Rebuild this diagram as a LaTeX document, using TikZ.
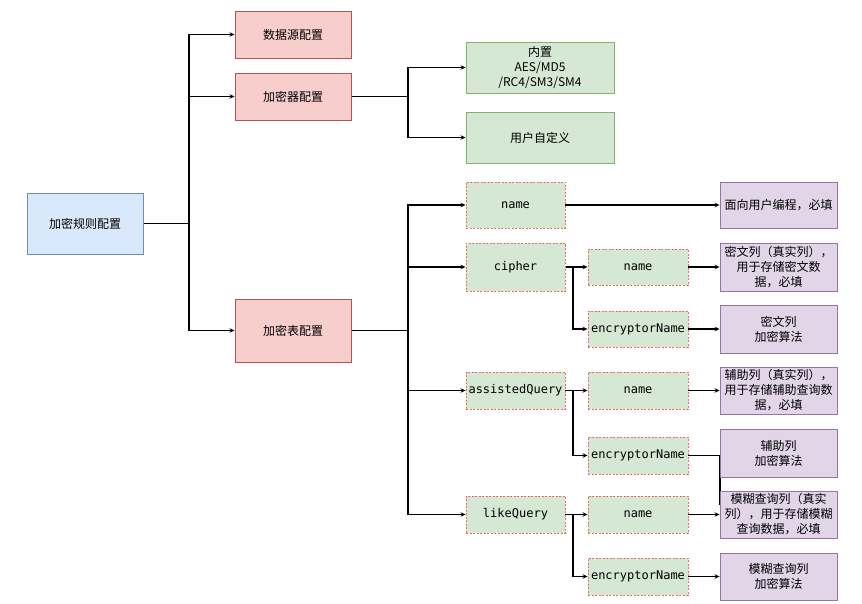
\documentclass[tikz,border=0pt]{standalone}
\usepackage{fontspec}
\setmainfont{Noto Sans CJK SC}
\setmonofont{DejaVu Sans Mono}
\usetikzlibrary{arrows.meta}
\pgfdeclarelayer{background}
\pgfsetlayers{background,main}
\definecolor{bluef}{HTML}{DAE8FC}\definecolor{blues}{HTML}{6C8EBF}
\definecolor{redf}{HTML}{F8CECC}\definecolor{reds}{HTML}{B85450}
\definecolor{greenf}{HTML}{D5E8D4}\definecolor{greens}{HTML}{82B366}
\definecolor{purpf}{HTML}{E1D5E7}\definecolor{purps}{HTML}{9673A6}
\definecolor{dashs}{HTML}{EA6B66}
\tikzset{
  box/.style={rectangle, inner sep=0pt, align=center, font=\fontsize{12}{15}\selectfont, line width=0.9pt},
  bluebox/.style={box, fill=bluef, draw=blues},
  redbox/.style={box, fill=redf, draw=reds, minimum width=116pt},
  greenbox/.style={box, fill=greenf, draw=greens, minimum width=148pt, minimum height=51pt},
  keybox/.style={box, fill=greenf, draw=dashs, dashed, dash pattern=on 2pt off 1.5pt, font=\fontsize{12}{15}\selectfont\ttfamily},
  keyA/.style={keybox, minimum width=99pt},
  keyB/.style={keybox, minimum width=100pt, minimum height=37pt},
  purpbox/.style={box, fill=purpf, draw=purps, minimum width=117pt},
  conn/.style={line width=1.1pt, black},
  arr/.style={conn, -{Stealth[length=5pt,width=4.5pt]}},
}
\begin{document}
\begin{tikzpicture}[x=1pt,y=-1pt]
\useasboundingbox (0,0) rectangle (862,604);
% nodes
\node[bluebox, minimum width=116pt, minimum height=61pt] (root) at (85,223.5) {加密规则配置};
\node[redbox, minimum height=47pt] (ds) at (293,34.5) {数据源配置};
\node[redbox, minimum height=47pt] (enc) at (293,96.5) {加密器配置};
\node[redbox, minimum height=63pt] (tbl) at (293,330.5) {加密表配置};
\node[greenbox] (builtin) at (540,67.5) {内置\\AES/MD5\\/RC4/SM3/SM4};
\node[greenbox] (custom) at (540,137.5) {用户自定义};
\node[keyA, minimum height=46pt] (nm) at (515.5,205) {name};
\node[keyA, minimum height=48pt] (ci) at (515.5,267) {cipher};
\node[keyA, minimum height=37pt] (aq) at (515.5,390.5) {assistedQuery};
\node[keyA, minimum height=37pt] (lq) at (515.5,514.5) {likeQuery};
\node[keyB, minimum height=36pt] (cn) at (638,267) {name};
\node[keyB, minimum height=36pt] (ce) at (638,329) {encryptorName};
\node[keyB] (aqn) at (638,390.5) {name};
\node[keyB] (aqe) at (638,455.5) {encryptorName};
\node[keyB] (lqn) at (638,514.5) {name};
\node[keyB] (lqe) at (638,576.5) {encryptorName};
\node[purpbox, minimum height=46pt] (p1) at (778.5,205) {面向用户编程，必填};
\node[purpbox, minimum height=48pt] (p2) at (778.5,267) {密文列（真实列），\\用于存储密文数\\据，必填};
\node[purpbox, minimum height=48pt] (p2b) at (778.5,329) {密文列\\加密算法};
\node[purpbox, minimum height=47pt] (p3) at (778.5,390.5) {辅助列（真实列），\\用于存储辅助查询数\\据，必填};
\node[purpbox, minimum height=48pt] (p4) at (778.5,453) {辅助列\\加密算法};
\node[purpbox, minimum height=47pt] (p5) at (778.5,514.5) {模糊查询列（真实\\列），用于存储模糊\\查询数据，必填};
\node[purpbox, minimum height=47pt] (p6) at (778.5,576.5) {模糊查询列\\加密算法};
% trunk coordinates
\coordinate (t1) at (189,223.5);
\coordinate (t2) at (408,96.5);
\coordinate (t3) at (408,330.5);
\coordinate (t4) at (573,267);
\coordinate (t5) at (573,390.5);
\coordinate (t6) at (573,514.5);
\coordinate (t7) at (720,455.5);
\coordinate (t8) at (720,505);
% connectors
\begin{pgfonlayer}{background}
\draw[conn] (root.east) -- (t1);
\draw[arr] (t1) |- (ds.west);
\draw[arr] (t1) |- (enc.west);
\draw[arr] (t1) |- (tbl.west);
\draw[conn] (enc.east) -- (t2);
\draw[arr] (t2) |- (builtin.west);
\draw[arr] (t2) |- (custom.west);
\draw[conn] (tbl.east) -- (t3);
\draw[arr] (t3) |- (nm.west);
\draw[arr] (t3) |- (ci.west);
\draw[arr] (t3) |- (aq.west);
\draw[arr] (t3) |- (lq.west);
\draw[arr] (nm.east) -- (p1.west);
\draw[conn] (ci.east) -- (t4);
\draw[arr] (t4) -- (cn.west);
\draw[arr] (t4) |- (ce.west);
\draw[conn] (aq.east) -- (t5);
\draw[arr] (t5) -- (aqn.west);
\draw[arr] (t5) |- (aqe.west);
\draw[conn] (lq.east) -- (t6);
\draw[arr] (t6) -- (lqn.west);
\draw[arr] (t6) |- (lqe.west);
\draw[arr] (cn.east) -- (p2.west);
\draw[arr] (ce.east) -- (p2b.west);
\draw[arr] (aqn.east) -- (p3.west);
\draw[conn] (aqe.east) -- (t7) -- (t8);
\draw[arr] (lqn.east) -- (p5.west);
\draw[arr] (lqe.east) -- (p6.west);
\end{pgfonlayer}
\end{tikzpicture}
\end{document}
